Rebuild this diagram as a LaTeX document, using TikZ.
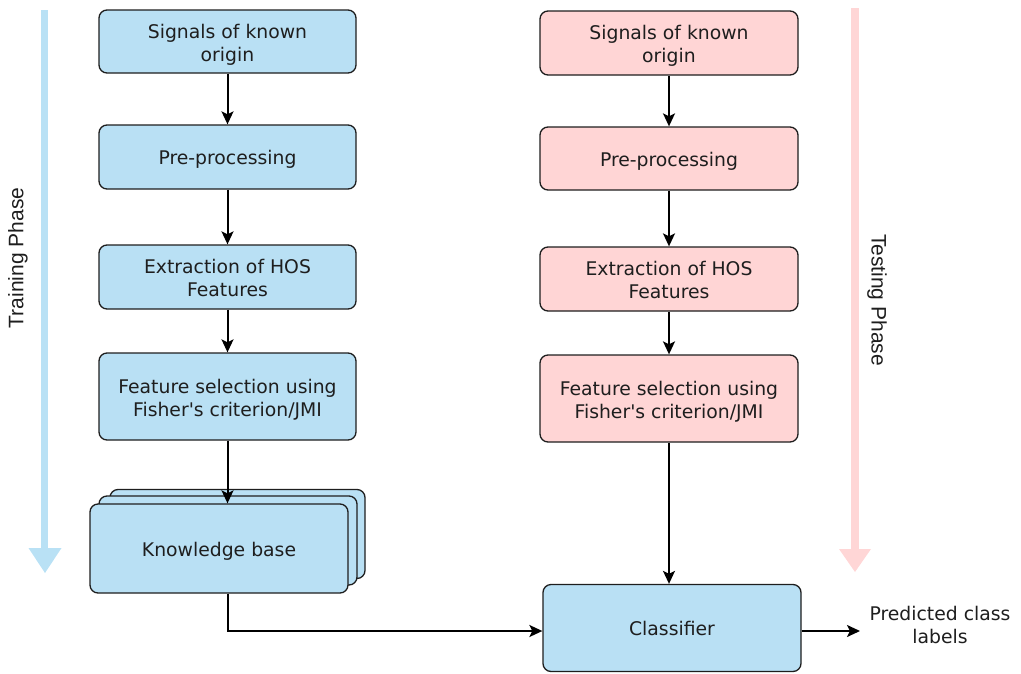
\documentclass[tikz,border=0pt]{standalone}
\usepackage{fontspec}
\setmainfont{DejaVu Sans}
\newfontfamily\phasefont{Liberation Sans}
\usetikzlibrary{arrows.meta}
\definecolor{boxblue}{HTML}{B9E0F4}
\definecolor{boxpink}{HTML}{FFD5D5}
\definecolor{phaseblue}{HTML}{B9E1F5}
\definecolor{phasepink}{HTML}{FFD6D6}
\definecolor{ink}{HTML}{1E1E1E}
% fixed line metrics so every label sits at the same height in its box
\newcommand{\boxstrut}{\rule[-4pt]{0pt}{23pt}}
\newcommand{\topstrut}{\rule{0pt}{20pt}}
\tikzset{
  stage/.style={draw=ink, line width=1.3pt, rounded corners=8pt, inner sep=0pt,
    minimum width=257pt, align=center, text=ink,
    font=\fontsize{18.8}{23}\selectfont,
    execute at begin node=\boxstrut, execute at end node=\boxstrut},
  trainbox/.style={stage, fill=boxblue},
  testbox/.style={stage, fill=boxpink},
  flow/.style={draw=black, line width=2pt,
    -{Stealth[length=13pt, width=12pt, inset=3pt]}},
  phaselabel/.style={text=ink, font=\phasefont\fontsize{21}{24}\selectfont}
}
\begin{document}
\begin{tikzpicture}[x=1pt, y=-1pt]
\useasboundingbox (0,0) rectangle (1021,673);

% phase arrows
\fill[phaseblue] (41,10) rectangle (48,550);
\fill[phaseblue] (28.5,548) -- (61.5,548) -- (45,573) -- cycle;
\fill[phasepink] (851,8) rectangle (859,552);
\fill[phasepink] (839,549) -- (871,549) -- (855,572) -- cycle;
\node[phaselabel, rotate=90] (trainlbl) at (18,258) {Training Phase};
\node[phaselabel, rotate=-90] (testlbl) at (877,300) {Testing Phase};

% training column
\node[trainbox, minimum height=63pt] (t1) at (227.5,41.5) {\topstrut Signals of known\\origin};
\node[trainbox, minimum height=64pt] (t2) at (227.5,157) {Pre-processing};
\node[trainbox, minimum height=64pt] (t3) at (227.5,277) {\topstrut Extraction of HOS\\Features};
\node[trainbox, minimum height=87pt] (t4) at (227.5,396.5) {\topstrut Feature selection using\\Fisher\textquotesingle s criterion/JMI};

% knowledge base stack
\node[trainbox, minimum width=255pt, minimum height=89pt] (kb3) at (237.5,534) {};
\node[trainbox, minimum width=258pt, minimum height=89pt] (kb2) at (228,540.5) {};
\node[trainbox, minimum width=258pt, minimum height=89pt] (kb) at (219,548.5) {Knowledge base};

% testing column
\node[testbox, minimum width=258pt, minimum height=64pt] (s1) at (669,43) {\topstrut Signals of known\\origin};
\node[testbox, minimum width=258pt, minimum height=63pt] (s2) at (669,158.5) {Pre-processing};
\node[testbox, minimum width=258pt, minimum height=64pt] (s3) at (669,279) {\topstrut Extraction of HOS\\Features};
\node[testbox, minimum width=258pt, minimum height=87pt] (s4) at (669,398.5) {\topstrut Feature selection using\\Fisher\textquotesingle s criterion/JMI};

% classifier and output
\node[trainbox, minimum width=258pt, minimum height=87pt] (cls) at (672,628) {Classifier};
\node[text=ink, align=center, font=\fontsize{18.8}{23}\selectfont] (out) at (940,625) {Predicted class\\labels};
\coordinate (outend) at (860,631);

% connectors
\draw[flow] (t1) -- (t2);
\draw[flow] (t2) -- (t3);
\draw[flow] (t3) -- (t4);
\draw[flow] (t4.south) -- (t4.south |- kb.north);
\draw[flow] (s1) -- (s2);
\draw[flow] (s2) -- (s3);
\draw[flow] (s3) -- (s4);
\draw[flow] (s4.south) -- (s4.south |- cls.north);
\draw[flow] (kb.south -| t4.south) |- (cls.west |- outend);
\draw[flow] (cls.east |- outend) -- (outend);
\end{tikzpicture}
\end{document}
